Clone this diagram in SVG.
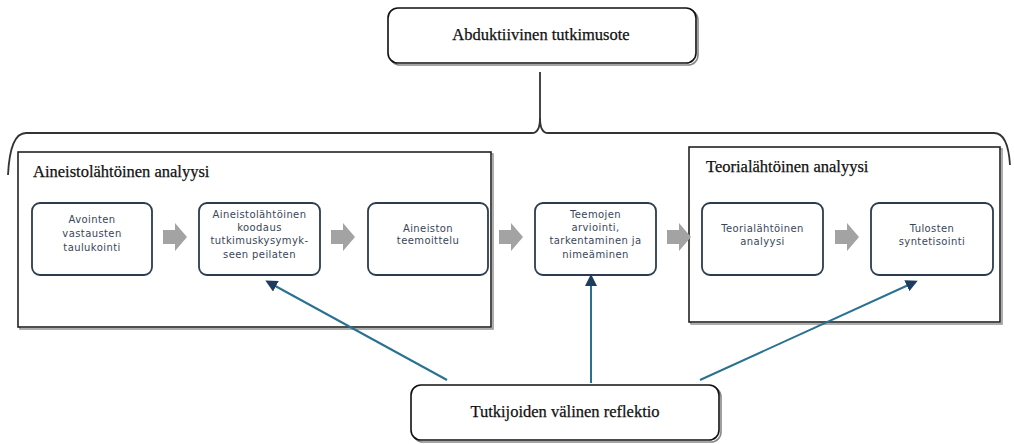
<svg xmlns="http://www.w3.org/2000/svg" width="1014" height="444" viewBox="0 0 1014 444">
<defs>
<style>
.serif{font-family:"Liberation Serif","Times New Roman",serif;fill:#111;stroke:#111;stroke-width:0.25;}
.big{fill:#fff;stroke:#111;stroke-width:1.6;}
.shadow{fill:none;stroke:#888;stroke-width:1.6;}
.panel{fill:#fff;stroke:#222;stroke-width:1.6;}
.step{fill:#fff;stroke:#2c3b4e;stroke-width:1.8;}
.st{font-family:"DejaVu Sans","Liberation Sans",sans-serif;font-size:10px;letter-spacing:0.4px;fill:#3a4658;text-anchor:middle;}
.blk{fill:#a3a3a3;}
.conn{stroke:#2a7191;stroke-width:2;fill:none;marker-end:url(#ah);}
.brace{fill:none;stroke:#333;stroke-width:1.8;}
</style>
<marker id="ah" markerWidth="12" markerHeight="12" refX="9" refY="6" orient="auto" markerUnits="userSpaceOnUse">
<path d="M0,0 L12,6 L0,12 Z" fill="#1c3d5e"/>
</marker>
<path id="blockarrow" d="M0,-7 L12,-7 L12,-14 L24,0 L12,14 L12,7 L0,7 Z"/>
</defs>
<rect width="1014" height="444" fill="#fff"/>

<g id="top">
<rect class="shadow" x="390" y="10" width="308" height="55" rx="10"/>
<rect class="big" x="388" y="8" width="308" height="55" rx="10"/>
<text class="serif" x="541" y="40" font-size="16.5" text-anchor="middle">Abduktiivinen tutkimusote</text>
</g>

<g id="brace">
<path class="brace" d="M540,72 L540,118 Q540,133 532,133 L26,133 Q10,133 8,175"/>
<path class="brace" d="M540,118 Q540,133 548,133 L994,133 Q1008,133 1010,165"/>
</g>

<g id="panel-left">
<rect x="20" y="154" width="473" height="175" fill="none" stroke="#999" stroke-width="1.6"/>
<rect class="panel" x="18" y="152" width="473" height="175"/>
<text class="serif" x="33" y="177" font-size="16.5">Aineistolähtöinen analyysi</text>
</g>

<g id="panel-right">
<rect x="691" y="149" width="311" height="175" fill="none" stroke="#999" stroke-width="1.6"/>
<rect class="panel" x="689" y="147" width="311" height="175"/>
<text class="serif" x="706" y="172" font-size="16.5">Teorialähtöinen analyysi</text>
</g>

<g id="n1">
<rect class="step" x="32" y="203" width="120" height="72" rx="8"/>
<text class="st"><tspan x="92" y="223">Avointen</tspan><tspan x="92" y="237">vastausten</tspan><tspan x="92" y="251">taulukointi</tspan></text>
</g>
<g id="n2">
<rect class="step" x="199" y="203" width="121" height="72" rx="8"/>
<text class="st"><tspan x="259.5" y="218">Aineistolähtöinen</tspan><tspan x="259.5" y="231">koodaus</tspan><tspan x="259.5" y="244">tutkimuskysymyk-</tspan><tspan x="259.5" y="258">seen peilaten</tspan></text>
</g>
<g id="n3">
<rect class="step" x="368" y="203" width="120" height="72" rx="8"/>
<text class="st"><tspan x="428" y="232">Aineiston</tspan><tspan x="428" y="244">teemoittelu</tspan></text>
</g>
<g id="n4">
<rect class="step" x="535" y="203" width="121" height="72" rx="8"/>
<text class="st"><tspan x="595.5" y="218">Teemojen</tspan><tspan x="595.5" y="231">arviointi,</tspan><tspan x="595.5" y="244">tarkentaminen ja</tspan><tspan x="595.5" y="258">nimeäminen</tspan></text>
</g>
<g id="n5">
<rect class="step" x="702" y="203" width="121" height="72" rx="8"/>
<text class="st"><tspan x="762.5" y="232">Teorialähtöinen</tspan><tspan x="762.5" y="245">analyysi</tspan></text>
</g>
<g id="n6">
<rect class="step" x="871" y="203" width="122" height="72" rx="8"/>
<text class="st"><tspan x="932" y="232">Tulosten</tspan><tspan x="932" y="245">syntetisointi</tspan></text>
</g>

<g id="bottom">
<rect class="shadow" x="413" y="387" width="308" height="55" rx="10"/>
<rect class="big" x="411" y="385" width="308" height="55" rx="10"/>
<text class="serif" x="565" y="417" font-size="16.5" text-anchor="middle">Tutkijoiden välinen reflektio</text>
</g>

<g id="connectors">
<use href="#blockarrow" class="blk" x="163" y="237"/>
<use href="#blockarrow" class="blk" x="331" y="237"/>
<use href="#blockarrow" class="blk" x="499" y="237"/>
<use href="#blockarrow" class="blk" x="667" y="237"/>
<use href="#blockarrow" class="blk" x="835" y="237"/>
<path class="conn" d="M447,380 L268,282"/>
<path class="conn" d="M591,383 L591,277"/>
<path class="conn" d="M700,380 L915,282"/>
</g>
</svg>
